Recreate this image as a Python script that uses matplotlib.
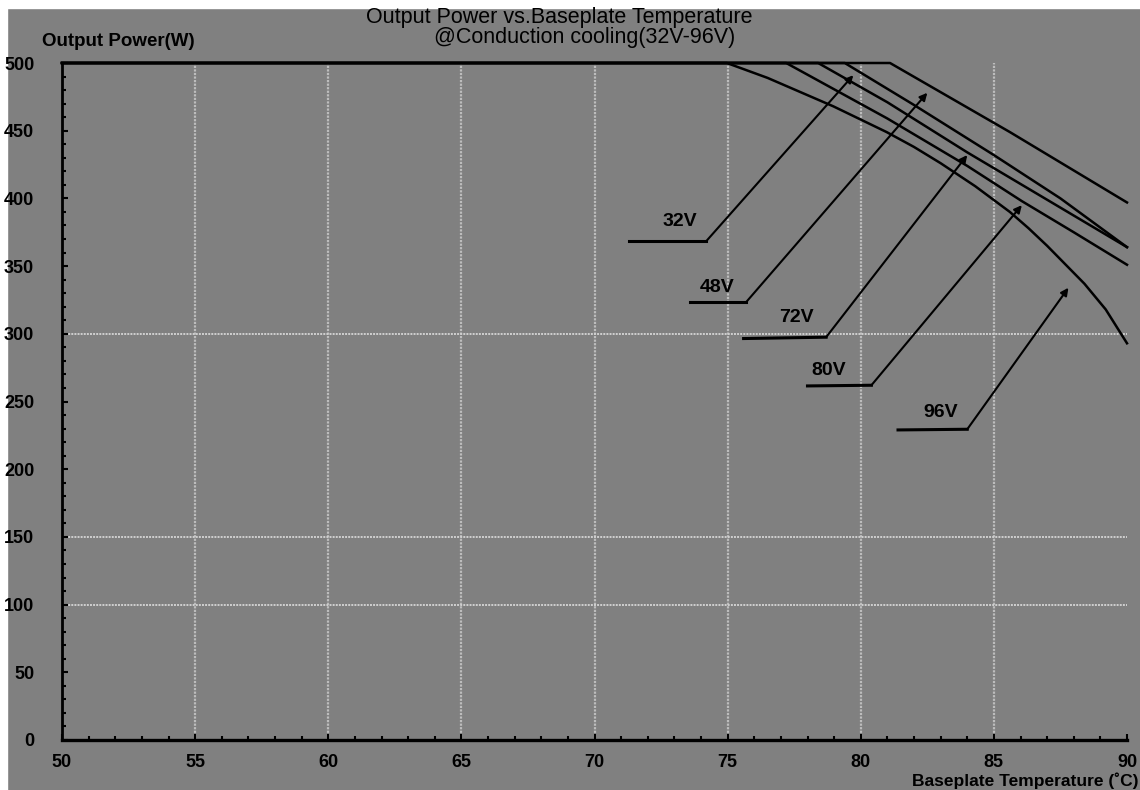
import matplotlib.pyplot as plt
from matplotlib.patches import Rectangle

# derating curves (temperature in C, power in W)
t_96v = [50, 74.97, 76.5, 78.97, 80.97, 82.0, 83.0, 84.3, 85.6, 86.3, 87.0, 88.4, 89.2, 90]
p_96v = [500, 500, 489, 468, 449, 438, 426, 409, 390, 378, 365, 337, 318, 293]
t_80v = [50, 77.2, 81.0, 84.0, 86.05, 88.0, 90]
p_80v = [500, 500, 459, 424, 398, 375, 351]
t_72v = [50, 78.4, 81.0, 84.0, 87.0, 90]
p_72v = [500, 500, 471, 434, 399, 364]
t_32v = [50, 79.4, 82.0, 85.0, 87.5, 90]
p_32v = [500, 500, 469, 432, 400, 364]
t_48v = [50, 81.1, 85.6, 90]
p_48v = [500, 500, 449, 397]

labels = ['32V', '48V', '72V', '80V', '96V']
xticks = [50, 55, 60, 65, 70, 75, 80, 85, 90]
yticks = [0, 50, 100, 150, 200, 250, 300, 350, 400, 450, 500]

# callout geometry: text pos, underline start/end, arrow tip
text_pos = [(73.2, 383), (74.6, 334), (77.6, 312), (78.8, 273), (83.0, 242)]
line_from = [(71.3, 368.5), (73.6, 323.5), (75.6, 296.5), (78.0, 261.5), (81.4, 229)]
line_to = [(74.2, 368.5), (75.7, 323.5), (78.7, 297.5), (80.4, 262), (84.0, 229.5)]
tips = [(79.72, 491), (82.5, 478), (84.0, 432), (86.05, 395), (87.8, 334)]

gray = '#808080'
fig = plt.figure(figsize=(11.4, 7.9), dpi=100)
fig.patch.set_facecolor(gray)
# white scan border at top and left
fig.add_artist(Rectangle((0, 1 - 8 / 790), 1, 8 / 790, transform=fig.transFigure, color='white', zorder=0))
fig.add_artist(Rectangle((0, 0), 7 / 1140, 1, transform=fig.transFigure, color='white', zorder=0))

ax = fig.add_axes([62 / 1140, 1 - 740 / 790, (1127 - 62) / 1140, (740 - 63) / 790])
ax.set_facecolor(gray)
ax.set_xlim(50, 90)
ax.set_ylim(0, 500)

# grid: vertical at every 5 C, horizontal only where the scan shows it
for x in xticks[1:-1]:
    ax.axvline(x, color='#bdbdbd', lw=1.6, ls=(0, (1, 0.6)), zorder=1)
for y in [100, 150, 300]:
    ax.axhline(y, color='#d0d0d0', lw=1.4, ls=(0, (1, 0.6)), zorder=1)

for t, p in [(t_96v, p_96v), (t_80v, p_80v), (t_72v, p_72v), (t_32v, p_32v), (t_48v, p_48v)]:
    ax.plot(t, p, color='black', lw=1.8, clip_on=False, zorder=3, solid_joinstyle='round')

for name, tp, a, b, tip in zip(labels, text_pos, line_from, line_to, tips):
    ax.plot([a[0], b[0]], [a[1], b[1]], color='black', lw=2.2, zorder=3)
    ax.annotate('', xy=tip, xytext=b,
                arrowprops=dict(arrowstyle='-|>', color='black', lw=1.5, mutation_scale=11, shrinkA=0, shrinkB=0),
                zorder=4)
    ax.text(tp[0], tp[1], name, ha='center', va='center', fontsize=14, fontweight='bold',
            family='Liberation Sans', color='black')

ax.spines['top'].set_visible(False)
ax.spines['right'].set_visible(False)
ax.spines['left'].set_linewidth(2)
ax.spines['bottom'].set_linewidth(2.4)

ax.set_xticks(xticks)
ax.set_yticks(yticks)
ax.set_xticks(range(50, 91), minor=True)
ax.set_yticks(range(0, 501, 10), minor=True)
ax.tick_params(axis='both', which='major', direction='in', length=4, width=1.5, color='black')
ax.tick_params(axis='both', which='minor', direction='in', length=3, width=1.5, color='black')
ax.tick_params(axis='x', which='major', pad=10)
ax.tick_params(axis='y', which='major', pad=20)
for lab in ax.get_xticklabels() + ax.get_yticklabels():
    lab.set_family('Liberation Sans')
    lab.set_fontweight('bold')
    lab.set_fontsize(13)

fig.text(559 / 1140, 1 - 17 / 790, 'Output Power vs.Baseplate Temperature', ha='center', va='center',
         fontsize=15.5, family='Liberation Sans')
fig.text(585 / 1140, 1 - 37 / 790, '@Conduction cooling(32V-96V)', ha='center', va='center',
         fontsize=15.5, family='Liberation Sans')
fig.text(42 / 1140, 1 - 42 / 790, 'Output Power(W)', ha='left', va='center',
         fontsize=13.5, fontweight='bold', family='Liberation Sans')
fig.text(1138 / 1140, 1 - 781 / 790, 'Baseplate Temperature (\u02daC)', ha='right', va='center',
         fontsize=12.5, fontweight='bold', family='Liberation Sans')

fig.savefig('out.png', dpi=100, facecolor=fig.get_facecolor())
